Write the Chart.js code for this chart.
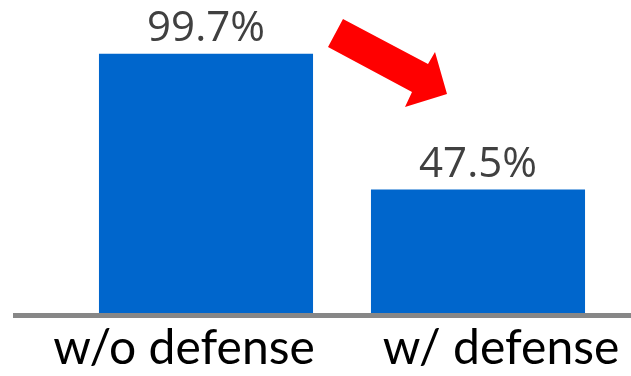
<!DOCTYPE html>
<html>
<head>
<meta charset="utf-8">
<script src="https://cdn.jsdelivr.net/npm/chart.js@4"></script>
<style>
  html, body { margin: 0; padding: 0; background: #fff; }
  canvas { display: block; }
</style>
</head>
<body>
<canvas id="barChart" width="631" height="376"></canvas>
<script>
// attack success rate, with and without the defense
var categories = ["w/o defense", "w/ defense"];
var successRate = [99.7, 47.5];
// category labels sit a little apart from the bar centres
var labelShift = [-22, 23];

// baseline, value labels, category labels and the red arrow
var decorations = {
  id: "decorations",
  afterDatasetsDraw: function(chart) {
    var ctx = chart.ctx;
    var area = chart.chartArea;
    var meta = chart.getDatasetMeta(0);

    ctx.save();

    // grey baseline running across the whole width
    ctx.fillStyle = "#878787";
    ctx.fillRect(13, area.bottom, chart.width - 13, 5);

    // value labels above each bar
    ctx.fillStyle = "#404040";
    ctx.font = "42px 'Open Sans'";
    ctx.textAlign = "center";
    ctx.textBaseline = "alphabetic";
    meta.data.forEach(function(bar, i) {
      ctx.fillText(successRate[i].toFixed(1) + "%", bar.x, bar.y - 13);
    });

    // category labels under the baseline
    ctx.fillStyle = "#000";
    ctx.font = "48px Lato";
    meta.data.forEach(function(bar, i) {
      ctx.fillText(categories[i], bar.x + labelShift[i], 364);
    });

    // red arrow pointing from the first bar down to the second
    ctx.fillStyle = "#ff0000";
    ctx.beginPath();
    ctx.moveTo(343, 19);
    ctx.lineTo(428, 64);
    ctx.lineTo(435, 52);
    ctx.lineTo(447, 94);
    ctx.lineTo(405, 107);
    ctx.lineTo(412, 92);
    ctx.lineTo(328, 47);
    ctx.closePath();
    ctx.fill();

    ctx.restore();
  }
};

var ctx = document.getElementById("barChart").getContext("2d");
new Chart(ctx, {
  type: "bar",
  data: {
    labels: categories,
    datasets: [{
      data: successRate,
      backgroundColor: "#0066cc",
      barPercentage: 0.787,
      categoryPercentage: 1
    }]
  },
  options: {
    responsive: false,
    animation: false,
    layout: { padding: { left: 70, right: 17, top: 53, bottom: 63 } },
    plugins: {
      legend: { display: false },
      tooltip: { enabled: false }
    },
    scales: {
      x: { display: false },
      y: { display: false, min: 0, max: 100 }
    }
  },
  plugins: [decorations]
});
</script>
</body>
</html>
